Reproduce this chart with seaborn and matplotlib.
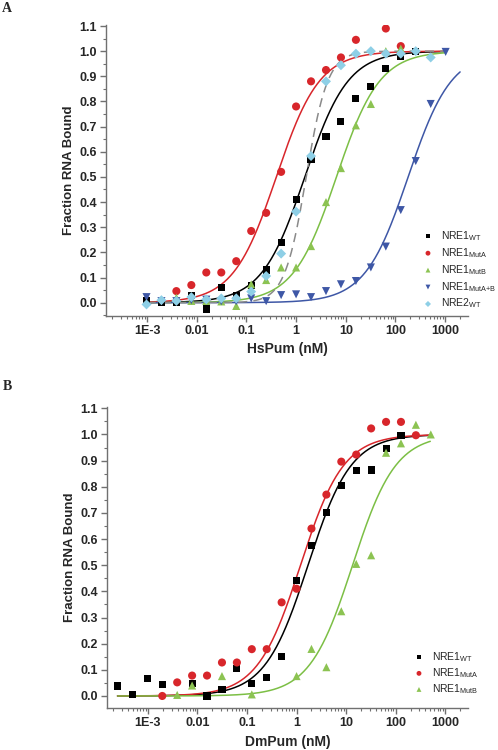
import numpy as np
import pandas as pd
import matplotlib
matplotlib.use("Agg")
import matplotlib.pyplot as plt
import matplotlib.ticker as mticker
from matplotlib import font_manager
import seaborn as sns

sns.set_theme(style="ticks")
plt.rcParams['font.family'] = ['Liberation Sans', 'DejaVu Sans']
plt.rcParams['mathtext.default'] = 'regular'

# ---- Panel A : HsPum (2-fold dilution series, nM) ----
a_conc = [0.000977, 0.00195, 0.0039, 0.0078, 0.0156, 0.03125, 0.0625, 0.125,
          0.25, 0.5, 1, 2, 4, 8, 16, 32, 64, 128, 256, 512, 1024]
a_wt = [0.007, 0.0, 0.0, 0.03, -0.025, 0.06, 0.03, 0.07, 0.13, 0.24, 0.41, 0.57,
        0.66, 0.72, 0.81, 0.86, 0.93, 0.98, 1.0, None, None]
a_muta = [None, None, 0.046, 0.07, 0.12, 0.12, 0.165, 0.285, 0.357, 0.52, 0.78, 0.88,
          0.925, 0.975, 1.045, None, 1.09, 1.02, None, None, None]
a_mutb = [None, None, 0.02, 0.007, 0.007, 0.005, -0.013, 0.073, 0.09, 0.14, 0.14, 0.225,
          0.40, 0.535, 0.705, 0.79, 1.0, 1.01, None, None, None]
a_mutab = [0.022, 0.006, 0.006, 0.01, 0.012, 0.006, 0.006, 0.017, 0.006, 0.03, 0.033, 0.022,
           0.046, 0.073, 0.086, 0.14, 0.223, 0.368, 0.563, 0.79, 0.997]
a_nre2 = [-0.007, 0.01, 0.007, 0.022, 0.013, 0.017, 0.017, 0.044, 0.106, 0.195, 0.362, 0.583,
          0.88, 0.944, 0.99, 1.0, 0.99, 0.99, 1.0, 0.975, None]

# fitted binding curves (apparent Kd in nM, Hill coefficient, x range)
a_kd = [1.5, 0.4, 6.5, 180, 1.6]
a_hill = [1, 1, 1, 1, 2]
a_fit_max = [1000, 1000, 1000, 2000, 1000]

# ---- Panel B : DmPum ----
b_conc = [0.000244, 0.000488, 0.000977, 0.00195, 0.0039, 0.0078, 0.0156, 0.03125, 0.0625,
          0.125, 0.25, 0.5, 1, 2, 4, 8, 16, 32, 64, 128, 256, 512]
b_wt = [0.038, 0.004, 0.067, 0.043, None, 0.048, 0.0, 0.023, 0.104, 0.048, 0.072, 0.152,
        0.44, 0.577, 0.70, 0.804, 0.863, 0.864, 0.948, 0.997, None, None]
b_muta = [None, None, None, 0.0, 0.052, 0.078, 0.078, 0.128, 0.128, 0.179, 0.179, 0.358,
          0.41, 0.64, 0.77, 0.896, 0.923, 1.023, 1.048, 1.048, 0.997, None]
b_mutb = [None, None, None, None, 0.004, 0.04, None, 0.076, None, 0.006, None, None,
          0.076, 0.18, 0.11, 0.324, 0.505, 0.538, 0.93, 0.966, 1.037, 1.0]
b_kd = [1.7, 1.2, 13.5]
b_hill = [1, 1, 1]

labels = ['NRE1$_{WT}$', 'NRE1$_{MutA}$', 'NRE1$_{MutB}$', 'NRE1$_{MutA{+}B}$', 'NRE2$_{WT}$']
markers = ['s', 'o', '^', 'v', 'D']
sizes = [26, 34, 34, 34, 26]
pt_colors = ['#000000', '#d8262b', '#8cc352', '#3e57a6', '#8ecfe6']
line_colors = ['#000000', '#d8262b', '#7cbf45', '#3e57a6', '#8a8a8a']
line_styles = ['-', '-', '-', '-', (0, (6, 4))]

# legend text is condensed in the original; use a narrow face when one is installed
font_names = {f.name for f in font_manager.fontManager.ttflist}
if 'Liberation Sans Narrow' in font_names:
    leg_font = font_manager.FontProperties(family='Liberation Sans Narrow', size=8.5)
else:
    leg_font = font_manager.FontProperties(family='Liberation Sans', size=7.5)
leg_px = leg_font.get_size_in_points() * 100 / 72


def hill_curve(kd, n, xmin, xmax):
    x = np.logspace(np.log10(xmin), np.log10(xmax), 300)
    return x, x ** n / (kd ** n + x ** n)


def style_axes(ax, xlabel, ylim):
    ax.set_xscale('log')
    ax.set_xlim(1.5e-4, 2900)
    ax.set_ylim(*ylim)
    ax.set_xticks([1e-3, 1e-2, 1e-1, 1, 10, 100, 1000])
    ax.set_xticklabels(['1E-3', '0.01', '0.1', '1', '10', '100', '1000'])
    ax.xaxis.set_minor_locator(mticker.LogLocator(base=10, subs=np.arange(2, 10)))
    ax.xaxis.set_minor_formatter(mticker.NullFormatter())
    ax.set_yticks(np.round(np.arange(0, 1.11, 0.1), 1))
    ax.set_yticklabels([f'{v:.1f}' for v in np.arange(0, 1.11, 0.1)])
    ax.yaxis.set_minor_locator(mticker.MultipleLocator(0.05))
    for s in ['top', 'right']:
        ax.spines[s].set_visible(False)
    for s in ['left', 'bottom']:
        ax.spines[s].set_color('#707070')
        ax.spines[s].set_linewidth(1.0)
    ax.tick_params(which='major', direction='out', length=4.5, width=1, color='#707070',
                   labelsize=9, pad=2)
    ax.tick_params(which='minor', direction='out', length=2.5, width=0.8, color='#707070')
    for lab in ax.get_xticklabels() + ax.get_yticklabels():
        lab.set_fontweight('bold')
    ax.set_xlabel(xlabel, fontsize=10, fontweight='bold', labelpad=4)
    ax.set_ylabel('Fraction RNA Bound', fontsize=9.5, fontweight='bold', labelpad=3)
    ax.grid(False)


def add_legend(ax, text_x_px, top_px, spacing):
    handles, labs = ax.get_legend_handles_labels()
    ax.get_legend().remove()
    left_px = text_x_px - 1.75 * leg_px
    fig.legend(handles, labs, loc='upper left',
               bbox_to_anchor=(left_px / 498, 1 - top_px / 750),
               frameon=False, prop=leg_font, markerscale=0.6, handlelength=1.0,
               handletextpad=0.75, labelspacing=spacing, borderpad=0, borderaxespad=0)


fig = plt.figure(figsize=(4.98, 7.5), dpi=100)
axA = fig.add_axes([0.213, 0.579, 0.727, 0.388])
axB = fig.add_axes([0.215, 0.056, 0.725, 0.401])

# Panel A
seriesA = [a_wt, a_muta, a_mutb, a_mutab, a_nre2]
for i, yv in enumerate(seriesA):
    x, y = hill_curve(a_kd[i], a_hill[i], 0.000977, a_fit_max[i])
    sns.lineplot(x=x, y=y, ax=axA, color=line_colors[i], linestyle=line_styles[i],
                 linewidth=1.1, legend=False, zorder=2)
for i, yv in enumerate(seriesA):
    d = pd.DataFrame({'conc': a_conc, 'frac': yv}).dropna()
    sns.scatterplot(data=d, x='conc', y='frac', ax=axA, marker=markers[i], s=sizes[i],
                    color=pt_colors[i], edgecolor='none', label=labels[i], zorder=3)
style_axes(axA, 'HsPum (nM)', (-0.052, 1.105))
add_legend(axA, 441, 229, 0.3)

# Panel B
seriesB = [b_wt, b_muta, b_mutb]
for i, yv in enumerate(seriesB):
    x, y = hill_curve(b_kd[i], b_hill[i], 0.000244, 500)
    sns.lineplot(x=x, y=y, ax=axB, color=line_colors[i], linewidth=1.1, legend=False, zorder=2)
for i, yv in enumerate(seriesB):
    d = pd.DataFrame({'conc': b_conc, 'frac': yv}).dropna()
    sns.scatterplot(data=d, x='conc', y='frac', ax=axB, marker=markers[i], s=sizes[i],
                    color=pt_colors[i], edgecolor='none', label=labels[i], zorder=3)
style_axes(axB, 'DmPum (nM)', (-0.046, 1.104))
add_legend(axB, 432, 650, 0.22)

fig.text(7 / 498, 1 - 8 / 750, 'A', fontsize=10, fontweight='bold',
         family=['Liberation Serif', 'DejaVu Serif'], va='center', ha='center')
fig.text(7 / 498, 1 - 387 / 750, 'B', fontsize=10, fontweight='bold',
         family=['Liberation Serif', 'DejaVu Serif'], va='center', ha='center')

fig.savefig('out.png', dpi=100)
